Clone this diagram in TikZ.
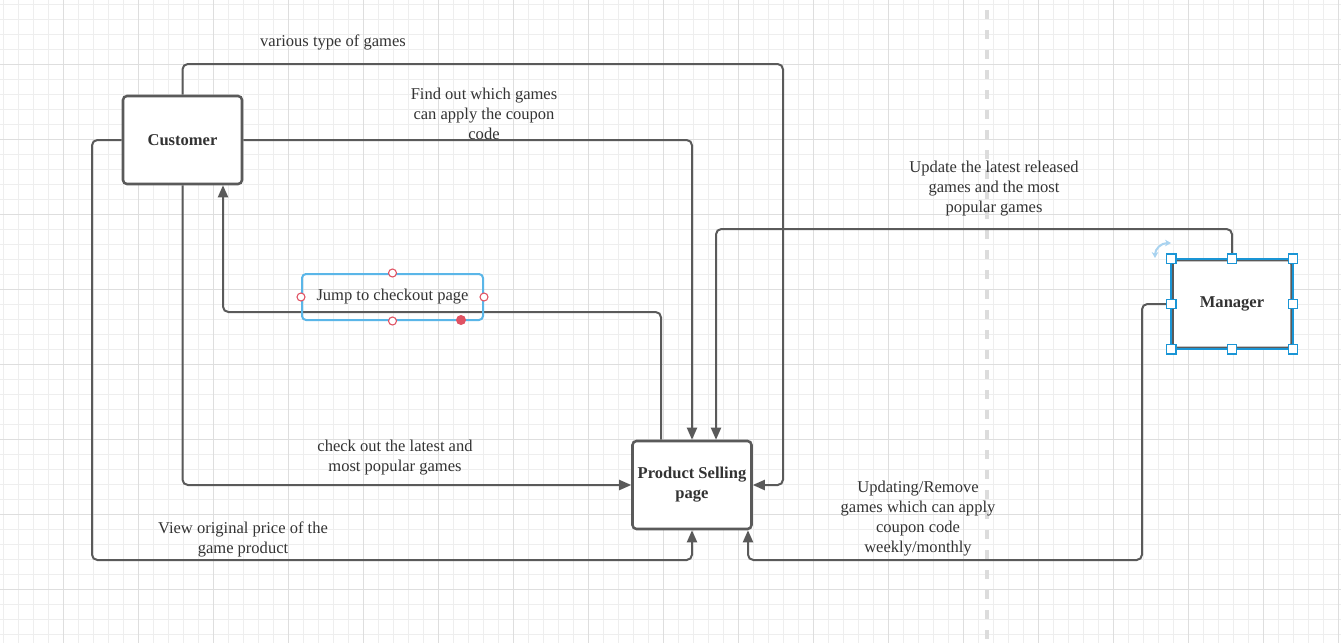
\documentclass[tikz,border=0pt]{standalone}
\usepackage{fontspec}
\setmainfont{Liberation Serif}
\usetikzlibrary{arrows.meta,calc}
\definecolor{linec}{HTML}{5A5A5A}
\definecolor{txt}{HTML}{333333}
\definecolor{selblue}{HTML}{1A95D5}
\definecolor{jumpblue}{HTML}{5AB6E8}
\definecolor{hred}{HTML}{E05263}
\definecolor{gridminor}{HTML}{EEEEEE}
\definecolor{gridmajor}{HTML}{DEDEDE}
\definecolor{dashc}{HTML}{DCDCDC}
\definecolor{rotc}{HTML}{A9D3F0}
\newcommand{\lblfont}{\fontsize{12.4pt}{15pt}\selectfont}
\tikzset{
  conn/.style={draw=linec, line width=1.5pt, rounded corners=4pt},
  arr/.style={-{Triangle[length=9pt,width=7.5pt]}},
  lbl/.style={font=\lblfont, text=txt, align=center, inner sep=0pt},
  boxnode/.style={draw=linec, line width=1.9pt, rounded corners=3pt, fill=white,
    minimum width=89.25pt, minimum height=66pt, font=\lblfont\bfseries, text=txt,
    align=center, inner sep=0pt},
  minorline/.style={draw=gridminor, line width=0.75pt},
  majorline/.style={draw=gridmajor, line width=0.75pt},
  rhandle/.style={circle, draw=hred, fill=white, line width=0.8pt, minimum size=6pt, inner sep=0pt},
  shandle/.style={rectangle, draw=selblue, fill=white, line width=0.9pt, minimum size=7pt, inner sep=0pt},
}
\begin{document}
\begin{tikzpicture}[x=0.75pt,y=-0.75pt]
\useasboundingbox (0,0) rectangle (1341,643);
\fill[white] (0,0) rectangle (1341,643);
% grid
\foreach \x in {3,18,...,1338} \draw[minorline] (\x,0) -- (\x,643);
\foreach \y in {4,19,...,634} \draw[minorline] (0,\y) -- (1341,\y);
\foreach \x in {63,138,...,1338} \draw[majorline] (\x,0) -- (\x,643);
\foreach \y in {64,139,...,589} \draw[majorline] (0,\y) -- (1341,\y);
% dashed separator
\draw[dashc, line width=2.4pt, dash pattern=on 6.75pt off 8.25pt] (987,10) -- (987,643);

% boxes
\node[boxnode] (cust) at (182.5,140) {Customer};
\node[boxnode] (prod) at (692,485) {Product Selling\\page};
\node[boxnode] (mgr) at (1232,304) {Manager};

% helper coordinates
\coordinate (x661) at (661,0);
\coordinate (x716) at (716,0);
\coordinate (x748) at (748,0);
\coordinate (x223) at (223,0);

% connectors
\draw[conn,arr] (cust.north) |- (783,64) |- (prod.east);
\draw[conn,arr] (cust.east) -| (prod.north);
\draw[conn,arr] (prod.north -| x661) |- (223,312) -- (cust.south -| x223);
\draw[conn,arr] (cust.south) |- (prod.west);
\draw[conn,arr] (cust.west) -| (92,560) -| (prod.south);
\draw[conn,arr] (mgr.north) |- (716,229) -- (prod.north -| x716);
\draw[conn,arr] (mgr.west) -| (1142,560) -| (prod.south -| x748);

% labels
\node[lbl] (l1) at (333,42.5) {various type of games};
\node[lbl] (l2) at (484,113.5) {Find out which games\\can apply the coupon\\code};
\node[lbl] (l3) at (994,188.5) {Update the latest released\\games and the most\\popular games};
\node[lbl] (l4) at (918,518.5) {Updating/Remove\\games which can apply\\coupon code\\weekly/monthly};
\node[lbl] (l5) at (395,457.5) {check out the latest and\\most popular games};
\node[lbl] (l6) at (243,539) {View original price of the\\game product};

% jump label (selected)
\node[lbl, draw=jumpblue, line width=1.5pt, rounded corners=3pt, minimum width=135.75pt, minimum height=34.5pt] (jump) at (392.5,297) {\raisebox{-1.5pt}{Jump to checkout page}};
\node[rhandle] at (jump.north) {};
\node[rhandle] at (jump.south) {};
\node[rhandle] at (jump.west) {};
\node[rhandle] at (jump.east) {};
\fill[hred] (461,320) circle (3.75pt);

% manager selection
\draw[selblue, line width=1.2pt] (mgr.north west) rectangle (mgr.south east);
\foreach \a in {north west,north,north east,west,east,south west,south,south east}
  \node[shandle] at (mgr.\a) {};
\draw[rotc, line width=1.5pt, {Stealth[length=4.5pt,width=5pt]}-{Stealth[length=4.5pt,width=5pt]}] (1155,258) .. controls (1155,249) and (1161,243) .. (1171,243);
\end{tikzpicture}
\end{document}
